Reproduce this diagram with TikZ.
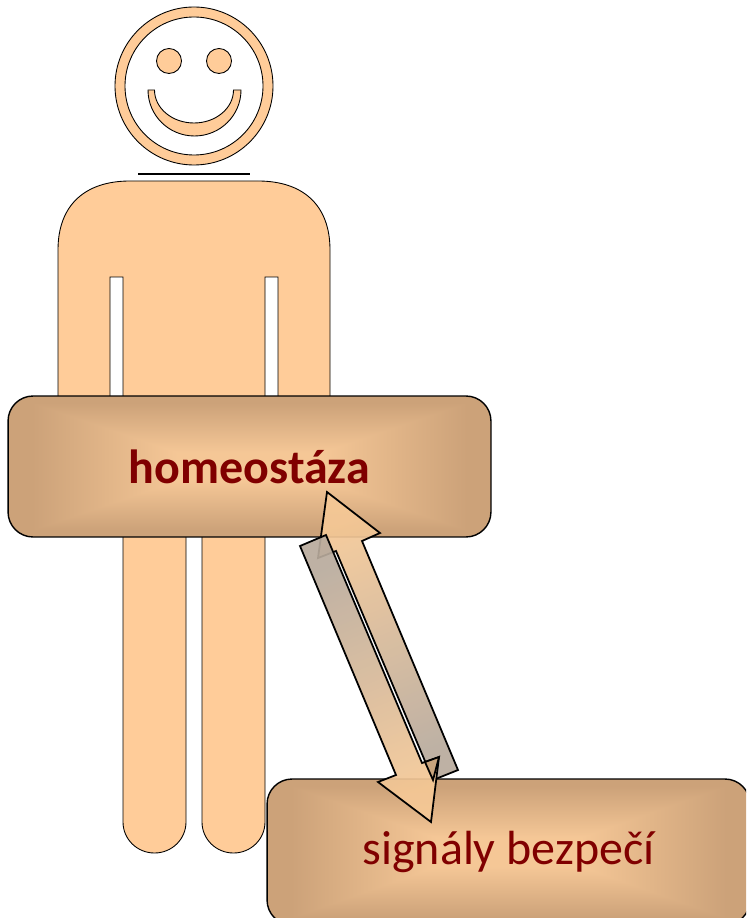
\documentclass[tikz,border=0pt]{standalone}
\usepackage{fontspec}
\setmainfont{Carlito}
\usetikzlibrary{arrows.meta,positioning,calc}
\definecolor{skin}{HTML}{FFCC99}
\definecolor{darkred}{HTML}{800000}
\definecolor{headtan}{HTML}{F5C896}
\definecolor{tailgrey}{HTML}{B8AA9C}
\definecolor{overlaptan}{HTML}{C9A47C}
\pgfdeclarefunctionalshading{boxglow}{\pgfpoint{-50bp}{-50bp}}{\pgfpoint{50bp}{50bp}}{}{
abs 25 div 0.2 sub 0.7 div exch abs 25 div 0.3 sub 0.6 div
2 copy lt {exch} if pop
dup 0 lt {pop 0} if dup 1 gt {pop 1} if
dup dup 0.16 mul 0.96 exch sub 3 1 roll 0.145 mul 0.78 exch sub exch 0.115 mul 0.59 exch sub
}
\tikzset{
  bodypart/.style={draw,fill=skin,line width=0.5pt},
  glowbox/.style={draw,rounded corners=0.5cm,shading=boxglow,line width=0.8pt,inner sep=0pt,text=darkred},
  blockarrow/.style={draw,line width=1pt,line join=miter,fill opacity=0.92}
}
\begin{document}
\begin{tikzpicture}[x=0.02cm,y=-0.02cm]
\useasboundingbox (0,0) rectangle (746,918);
\clip (0,0) rectangle (746,918);
% head
\draw[bodypart,even odd rule] (194,86) circle (79) (194,86) circle (69);
\draw[bodypart] (169,61) circle (12.5);
\draw[bodypart] (219,61) circle (12.5);
\draw[bodypart] (148,90) arc[start angle=180,end angle=0,x radius=46.5,y radius=46] -- (233.5,90) arc[start angle=0,end angle=180,x radius=39.5,y radius=33] -- cycle;
\draw[line width=0.75pt] (138,174) -- (250,174);
% body and legs
\draw[bodypart] (58,420) -- (58,250) .. controls (58,205) and (85,181) .. (130,181) -- (258,181) .. controls (303,181) and (330,205) .. (330,250) -- (330,420) -- (278,420) -- (278,277) -- (265,277) -- (265,420) -- (123,420) -- (123,277) -- (110,277) -- (110,420) -- cycle;
\draw[bodypart] (123,500) -- (123,822) arc[start angle=180,end angle=0,x radius=31.5,y radius=31] -- (186,500) -- cycle;
\draw[bodypart] (202,500) -- (202,822) arc[start angle=180,end angle=0,x radius=31.5,y radius=31] -- (265,500) -- cycle;
% boxes
\node[glowbox,minimum width=9.66cm,minimum height=2.82cm,font=\fontsize{27.3}{32}\selectfont\bfseries] (homeo) at (249.5,466.5) {homeost\'aza};
\node[glowbox,minimum width=9.66cm,minimum height=2.92cm,font=\fontsize{27.3}{32}\selectfont] (signal) at (508.5,852) {sign\'aly bezpe\v{c}\'i};
% arrows
\draw[blockarrow,top color=headtan,bottom color=tailgrey,shading angle=22] (327,492) -- (380,533) -- (362,541) -- (458,770) -- (433,780) -- (336,551) -- (318,558) -- cycle;
\draw[blockarrow,top color=tailgrey,bottom color=headtan,shading angle=22] (431,822) -- (378,782) -- (396,775) -- (300,546) -- (326,535) -- (422,763) -- (439,757) -- cycle;
\draw[fill=overlaptan,line width=1pt] (425,762) -- (439,757) -- (433,780) -- cycle;
\end{tikzpicture}
\end{document}
